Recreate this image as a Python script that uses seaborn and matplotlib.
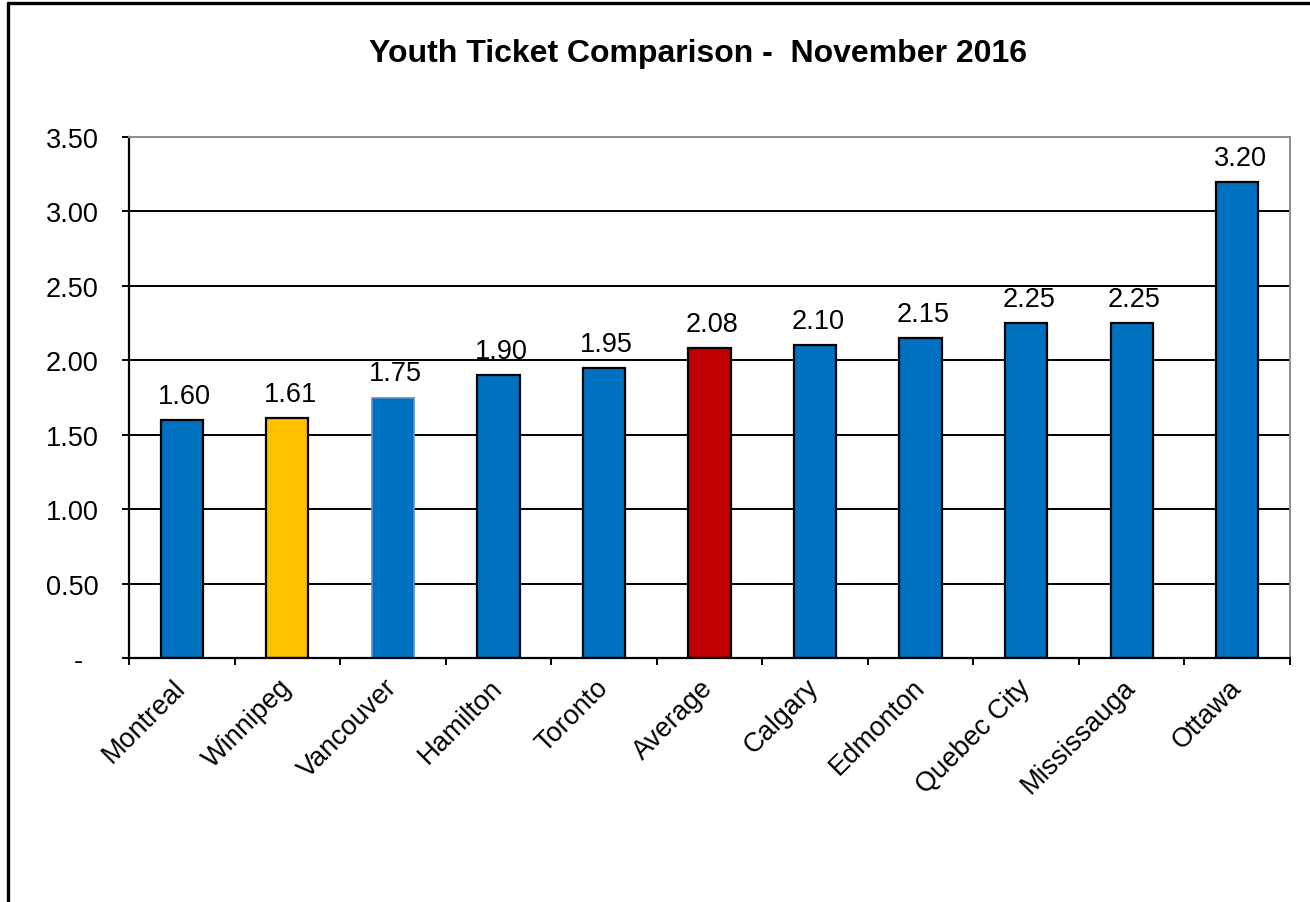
import matplotlib
matplotlib.use("Agg")
import matplotlib.pyplot as plt
from matplotlib.lines import Line2D
from matplotlib.ticker import FixedLocator, FuncFormatter
import seaborn as sns
import pandas as pd

# Fare data
cities = ["Montreal", "Winnipeg", "Vancouver", "Hamilton", "Toronto", "Average",
          "Calgary", "Edmonton", "Quebec City", "Mississauga", "Ottawa"]
fares = [1.60, 1.61, 1.75, 1.90, 1.95, 2.08, 2.10, 2.15, 2.25, 2.25, 3.20]
y_ticks = [0.0, 0.5, 1.0, 1.5, 2.0, 2.5, 3.0, 3.5]

BLUE = "#0070C0"
YELLOW = "#FFC000"
RED = "#C00000"
bar_colors = {c: BLUE for c in cities}
bar_colors["Winnipeg"] = YELLOW
bar_colors["Average"] = RED

df = pd.DataFrame({"city": cities, "fare": fares})

sns.set_theme(style="white")
plt.rcParams["font.family"] = ["Liberation Sans", "DejaVu Sans"]
plt.rcParams["text.color"] = "black"
plt.rcParams["xtick.color"] = "black"
plt.rcParams["ytick.color"] = "black"

FS = 19.5

fig = plt.figure(figsize=(13.10, 9.03), dpi=100)
ax = fig.add_axes([129 / 1310, 1 - 659 / 903, (1290 - 129) / 1310, (659 - 138) / 903])

sns.barplot(data=df, x="city", y="fare", hue="city", palette=bar_colors,
            legend=False, width=0.4, ax=ax, saturation=1,
            edgecolor="black", linewidth=1.6)

# Vancouver bar drawn with a soft edge
for patch, city in zip(ax.patches, cities):
    if city == "Vancouver":
        patch.set_edgecolor("#5B8FC9")
        patch.set_linewidth(1.2)

ax.set_xlim(-0.5, len(cities) - 0.5)
ax.set_ylim(0, 3.5)
ax.set_xlabel("")
ax.set_ylabel("")

# Gridlines
for v in y_ticks[1:-1]:
    ax.axhline(v, color="black", linewidth=1.4, zorder=0)

# Accounting-style axis labels: zero shown as a dash
ax.yaxis.set_major_locator(FixedLocator(y_ticks))
ax.yaxis.set_major_formatter(
    FuncFormatter(lambda v, p: "-  " if v == 0 else f"{v:.2f}"))
ax.tick_params(axis="y", which="major", left=True, length=5, width=1.4,
               color="black", labelsize=FS, labelcolor="black", pad=17,
               direction="out")

# Category ticks at bar boundaries, labels at centers
ax.set_xticks(range(len(cities)))
ax.set_xticklabels(cities, rotation=45, ha="right", va="center",
                   rotation_mode="anchor", fontsize=FS, color="black")
ax.set_xticks([i - 0.5 for i in range(len(cities) + 1)], minor=True)
ax.tick_params(axis="x", which="major", bottom=False, length=0, pad=18)
ax.tick_params(axis="x", which="minor", bottom=True, length=5, width=1.4,
               color="black", direction="out")

for side in ["left", "bottom"]:
    ax.spines[side].set_color("black")
    ax.spines[side].set_linewidth(1.6)
for side in ["top", "right"]:
    ax.spines[side].set_visible(True)
    ax.spines[side].set_color("#8C8C8C")
    ax.spines[side].set_linewidth(1.4)

# Value labels
for i, v in enumerate(fares):
    ax.annotate(f"{v:.2f}", xy=(i, v), xytext=(2, 8), textcoords="offset points",
                ha="center", va="bottom", fontsize=FS, color="black")

fig.text(698 / 1310, 1 - 54 / 903, "Youth Ticket Comparison -  November 2016",
         ha="center", va="center", fontsize=23, fontweight="bold", color="black")

# Chart frame (left and top edges)
fig.add_artist(Line2D([8 / 1310, 8 / 1310], [0, 1 - 4 / 903], color="black",
                      linewidth=2.4, transform=fig.transFigure))
fig.add_artist(Line2D([8 / 1310, 1], [1 - 4 / 903, 1 - 4 / 903], color="black",
                      linewidth=2.4, transform=fig.transFigure))

fig.savefig("out.png", dpi=100)
